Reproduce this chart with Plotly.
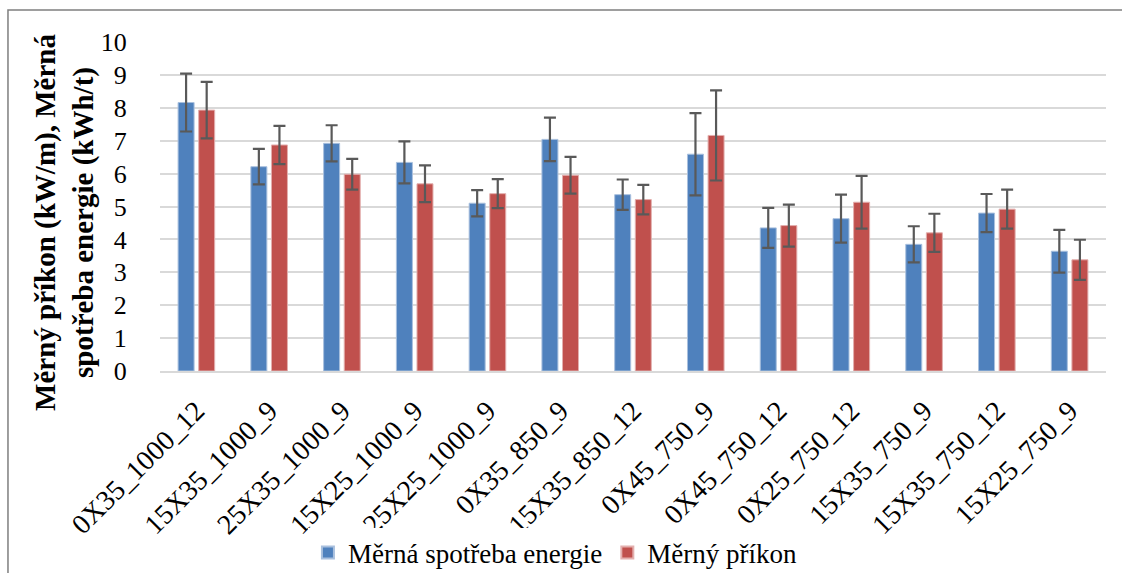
import plotly.graph_objects as go

categories = ["0X35_1000_12", "15X35_1000_9", "25X35_1000_9", "15X25_1000_9",
              "25X25_1000_9", "0X35_850_9", "15X35_850_12", "0X45_750_9",
              "0X45_750_12", "0X25_750_12", "15X35_750_9", "15X35_750_12",
              "15X25_750_9"]

spotreba = [8.16, 6.21, 6.92, 6.34, 5.10, 7.04, 5.36, 6.59, 4.35, 4.63, 3.85, 4.80, 3.64]
spotreba_err = [0.88, 0.54, 0.55, 0.64, 0.40, 0.66, 0.46, 1.25, 0.61, 0.73, 0.55, 0.58, 0.65]

prikon = [7.93, 6.87, 5.98, 5.69, 5.39, 5.95, 5.21, 7.16, 4.42, 5.13, 4.20, 4.92, 3.38]
prikon_err = [0.86, 0.58, 0.47, 0.56, 0.44, 0.56, 0.45, 1.37, 0.64, 0.80, 0.58, 0.59, 0.61]

y_ticks = list(range(0, 11))

FONT = "Liberation Serif, Times New Roman, serif"
ERR_COLOR = "#595959"

fig = go.Figure()
fig.add_trace(go.Bar(
    x=categories, y=spotreba, name="Měrná spotřeba energie",
    marker=dict(color="#4F81BD", line=dict(color="#A9C0DE", width=1)),
    error_y=dict(type="data", array=spotreba_err, visible=True,
                 color=ERR_COLOR, thickness=2.2, width=6),
))
fig.add_trace(go.Bar(
    x=categories, y=prikon, name="Měrný příkon",
    marker=dict(color="#C0504D", line=dict(color="#E3AFAE", width=1)),
    error_y=dict(type="data", array=prikon_err, visible=True,
                 color=ERR_COLOR, thickness=2.2, width=6),
))

fig.update_layout(
    width=1122, height=573,
    margin=dict(l=160, r=16, t=42, b=202, autoexpand=False),
    paper_bgcolor="white", plot_bgcolor="white",
    barmode="group", bargap=0.434, bargroupgap=0.223,
    font=dict(family=FONT, size=26, color="black"),
    showlegend=True,
    legend=dict(orientation="h", x=0.418, xanchor="center", y=-0.553, yanchor="middle",
                font=dict(family=FONT, size=27), itemsizing="constant",
                traceorder="normal", itemwidth=30),
    xaxis=dict(
        tickangle=-45, tickfont=dict(family=FONT, size=28), automargin=False,
        showgrid=False, showline=True, linecolor="#D9D9D9", linewidth=2,
        ticks="outside", ticklen=10, tickcolor="rgba(0,0,0,0)",
    ),
    yaxis=dict(
        range=[0, 10], tickvals=y_ticks, ticktext=[str(v) for v in y_ticks],
        tickfont=dict(family=FONT, size=26), automargin=False,
        showgrid=True, gridcolor="#D9D9D9", gridwidth=2,
        zeroline=False, showline=False,
        ticks="outside", ticklen=27, tickcolor="rgba(0,0,0,0)",
    ),
    annotations=[dict(
        text="<b>Měrný příkon (kW/m), Měrná<br>spotřeba energie (kWh/t)</b>",
        xref="paper", yref="paper", x=-0.1004, y=0.45,
        xanchor="center", yanchor="middle", textangle=-90, showarrow=False,
        font=dict(family=FONT, size=29, color="black"),
    )],
    shapes=[dict(
        type="rect", xref="paper", yref="paper",
        x0=-0.1607, x1=1.08, y0=-0.8, y1=1.0973,
        line=dict(color="#7F7F7F", width=1.5), fillcolor="rgba(0,0,0,0)",
    )],
)

fig.write_html(
    "out.html",
    config={"displayModeBar": False},
    post_script="document.body.style.margin='0';document.body.style.overflow='hidden';",
)
